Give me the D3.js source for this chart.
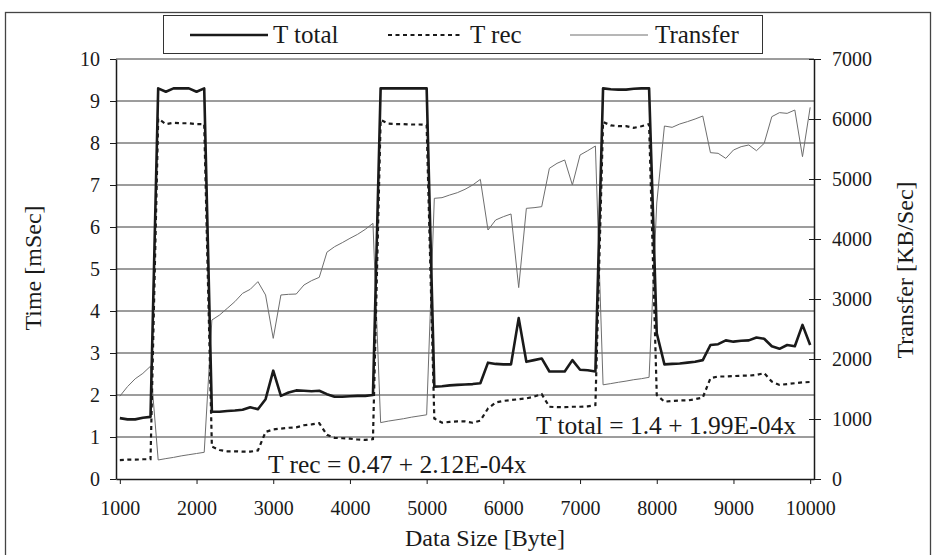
<!DOCTYPE html>
<html>
<head>
<meta charset="utf-8">
<script src="https://cdn.jsdelivr.net/npm/d3@7"></script>
<style>
  body { margin: 0; background: #fff; }
  svg, svg text { font-family: "Liberation Serif", "Times New Roman", Times, "DejaVu Serif", serif; }
</style>
</head>
<body>
<svg id="chart" width="934" height="555"></svg>
<script>
// Packet size (bytes) for each measurement
const dataSize = [
  1000,1100,1200,1300,1400,1500,1600,1700,1800,1900,
  2000,2100,2200,2300,2400,2500,2600,2700,2800,2900,
  3000,3100,3200,3300,3400,3500,3600,3700,3800,3900,
  4000,4100,4200,4300,4400,4500,4600,4700,4800,4900,
  5000,5100,5200,5300,5400,5500,5600,5700,5800,5900,
  6000,6100,6200,6300,6400,6500,6600,6700,6800,6900,
  7000,7100,7200,7300,7400,7500,7600,7700,7800,7900,
  8000,8100,8200,8300,8400,8500,8600,8700,8800,8900,
  9000,9100,9200,9300,9400,9500,9600,9700,9800,9900,
  10000
];

// Total time (ms)
const tTotal = [
  1.45,1.42,1.42,1.46,1.48,9.30,9.22,9.30,9.30,9.30,
  9.22,9.30,1.60,1.60,1.62,1.63,1.65,1.71,1.66,1.90,
  2.58,1.98,2.06,2.11,2.10,2.09,2.10,2.02,1.96,1.96,
  1.97,1.98,1.98,2.00,9.30,9.30,9.30,9.30,9.30,9.30,
  9.30,2.20,2.21,2.23,2.24,2.25,2.26,2.28,2.77,2.74,
  2.73,2.73,3.83,2.79,2.83,2.87,2.56,2.56,2.56,2.83,
  2.60,2.59,2.56,9.30,9.28,9.27,9.27,9.29,9.30,9.30,
  3.47,2.73,2.74,2.75,2.77,2.79,2.83,3.19,3.21,3.30,
  3.27,3.29,3.30,3.37,3.34,3.16,3.10,3.19,3.16,3.67,
  3.19
];

// Receive time (ms)
const tRec = [
  0.45,0.46,0.46,0.47,0.47,8.58,8.45,8.48,8.47,8.47,
  8.45,8.45,0.77,0.69,0.66,0.66,0.65,0.65,0.68,1.12,
  1.18,1.20,1.22,1.23,1.28,1.30,1.33,1.05,0.98,0.97,
  0.96,0.94,0.93,0.95,8.55,8.46,8.45,8.45,8.44,8.44,
  8.43,1.44,1.34,1.36,1.37,1.37,1.34,1.39,1.68,1.82,
  1.86,1.88,1.90,1.92,1.96,2.02,1.72,1.71,1.71,1.72,
  1.72,1.73,1.76,8.50,8.42,8.40,8.40,8.36,8.40,8.45,
  2.00,1.84,1.86,1.87,1.87,1.90,1.94,2.40,2.44,2.44,
  2.45,2.46,2.46,2.48,2.52,2.32,2.24,2.26,2.28,2.30,
  2.31
];

// Transfer rate (KB/Sec)
const transfer = [
  1380,1540,1670,1760,1880,317,340,360,385,405,
  425,445,2650,2733,2844,2956,3094,3161,3289,3067,
  2344,3067,3078,3083,3233,3306,3361,3780,3872,3939,
  4011,4078,4161,4261,940,965,985,1005,1030,1050,
  1070,4678,4689,4733,4772,4828,4900,4994,4150,4317,
  4372,4417,3190,4511,4522,4539,5178,5261,5317,4900,
  5400,5472,5550,1570,1590,1612,1632,1655,1672,1695,
  4600,5883,5861,5917,5956,6000,6050,5439,5428,5344,
  5483,5539,5567,5472,5594,6039,6106,6094,6150,5372,
  6194
];

const xTicks = [1000,2000,3000,4000,5000,6000,7000,8000,9000,10000];
const timeTicks = [0,1,2,3,4,5,6,7,8,9,10];
const rateTicks = [0,1000,2000,3000,4000,5000,6000,7000];
const seriesNames = ["T total", "T rec", "Transfer"];
const fitRec = "T rec = 0.47 + 2.12E-04x";
const fitTotal = "T total = 1.4 + 1.99E-04x";

const FONT = '"Liberation Serif", "Times New Roman", Times, "DejaVu Serif", serif';
const svg = d3.select("#chart").style("font-family", FONT);
const plot = { left: 116, right: 814, top: 59, bottom: 479 };

// Category-style x axis: first and last points sit half a step inside the frame
const x = d3.scaleLinear().domain([950, 10050]).range([plot.left, plot.right]);
const yTime = d3.scaleLinear().domain([0, 10]).range([plot.bottom, plot.top]);
const yRate = d3.scaleLinear().domain([0, 7000]).range([plot.bottom, plot.top]);

const ink = "#1a1a1a";
const rateColor = "#6e6e6e";
const plain = d3.format("d");

// outer frame
svg.append("rect")
  .attr("x", 5.5).attr("y", 12.5).attr("width", 925).attr("height", 580)
  .attr("fill", "none").attr("stroke", "#444").attr("stroke-width", 1.3);

// horizontal gridlines
svg.append("g").selectAll("line")
  .data(timeTicks.filter(v => v > 0))
  .join("line")
  .attr("x1", plot.left).attr("x2", plot.right)
  .attr("y1", d => yTime(d)).attr("y2", d => yTime(d))
  .attr("stroke", "#3a3a3a").attr("stroke-width", 1);

// left axis
const gL = svg.append("g")
  .attr("transform", `translate(${plot.left},0)`)
  .call(d3.axisLeft(yTime).tickValues(timeTicks).tickFormat(plain)
    .tickSize(6).tickPadding(10).tickSizeOuter(0));

// right axis
const gR = svg.append("g")
  .attr("transform", `translate(${plot.right},0)`)
  .call(d3.axisRight(yRate).tickValues(rateTicks).tickFormat(plain)
    .tickSize(6).tickPadding(12).tickSizeOuter(0));
gR.selectAll(".tick line").attr("x1", -5).attr("x2", 7);

// bottom axis
const gB = svg.append("g")
  .attr("transform", `translate(0,${plot.bottom})`)
  .call(d3.axisBottom(x).tickValues(xTicks).tickFormat(plain)
    .tickSize(5).tickPadding(17).tickSizeOuter(0));

[gL, gR, gB].forEach(g => {
  g.attr("font-family", null).attr("font-size", null);
  g.select(".domain").attr("stroke", ink).attr("stroke-width", 1.5);
  g.selectAll(".tick line").attr("stroke", ink);
  g.selectAll("text").attr("fill", ink).style("font-family", FONT).style("font-size", "20px");
});

// series lines
const lineTime = arr => d3.line().x((d, i) => x(dataSize[i])).y(d => yTime(d))(arr);
const lineRate = arr => d3.line().x((d, i) => x(dataSize[i])).y(d => yRate(d))(arr);

svg.append("path").attr("d", lineRate(transfer))
  .attr("fill", "none").attr("stroke", rateColor).attr("stroke-width", 1);
svg.append("path").attr("d", lineTime(tRec))
  .attr("fill", "none").attr("stroke", ink).attr("stroke-width", 2.2)
  .attr("stroke-dasharray", "4,3.5");
svg.append("path").attr("d", lineTime(tTotal))
  .attr("fill", "none").attr("stroke", ink).attr("stroke-width", 2.6)
  .attr("stroke-linejoin", "round");

function label(sel, size) {
  return sel.style("font-family", FONT).style("font-size", size + "px").attr("fill", ink);
}

// regression labels
label(svg.append("text").attr("x", 268).attr("y", 473), 25.5).text(fitRec);
label(svg.append("text").attr("x", 536).attr("y", 434), 25.5).text(fitTotal);

// axis titles
label(svg.append("text")
  .attr("transform", "translate(41,268) rotate(-90)")
  .attr("text-anchor", "middle"), 24).text("Time [mSec]");
label(svg.append("text")
  .attr("transform", "translate(913,270) rotate(-90)")
  .attr("text-anchor", "middle"), 24).text("Transfer [KB/Sec]");
label(svg.append("text")
  .attr("x", 485).attr("y", 546)
  .attr("text-anchor", "middle"), 24).text("Data Size [Byte]");

// legend
const legend = svg.append("g");
legend.append("rect")
  .attr("x", 163.5).attr("y", 15.5).attr("width", 599).attr("height", 38)
  .attr("fill", "#fff").attr("stroke", "#333").attr("stroke-width", 1);
const legendItems = [
  { name: seriesNames[0], x0: 190, x1: 268, tx: 273, stroke: ink, width: 2.6, dash: null },
  { name: seriesNames[1], x0: 388, x1: 462, tx: 470, stroke: ink, width: 2.2, dash: "4,3.5" },
  { name: seriesNames[2], x0: 570, x1: 648, tx: 655, stroke: rateColor, width: 1, dash: null }
];
legendItems.forEach(it => {
  legend.append("line")
    .attr("x1", it.x0).attr("x2", it.x1).attr("y1", 35).attr("y2", 35)
    .attr("stroke", it.stroke).attr("stroke-width", it.width)
    .attr("stroke-dasharray", it.dash);
  label(legend.append("text").attr("x", it.tx).attr("y", 43), 25).text(it.name);
});
</script>
</body>
</html>
